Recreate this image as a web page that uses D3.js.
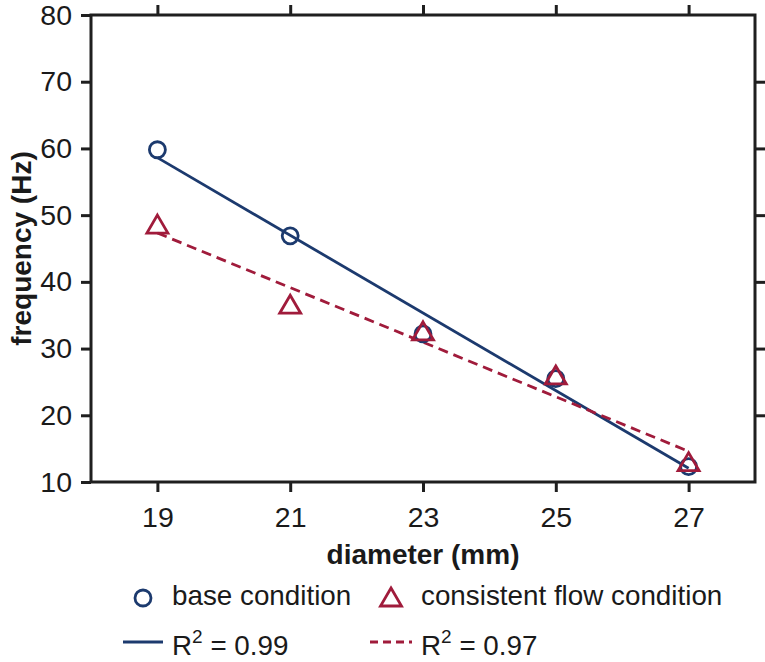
<!DOCTYPE html>
<html>
<head>
<meta charset="utf-8">
<script src="https://cdn.jsdelivr.net/npm/d3@7"></script>
<style>
  html, body { margin: 0; padding: 0; background: #fff; }
  svg { display: block; }
  text { font-family: "Liberation Sans", Arial, Helvetica, sans-serif; fill: #1a1a1a; }
</style>
</head>
<body>
<svg id="chart" width="765" height="662"></svg>
<script>
// ---- data ----
const diameters = [19, 21, 23, 25, 27];
const baseFreq = [59.8, 46.9, 32.2, 25.5, 12.3];
const flowFreq = [48.2, 36.2, 32.2, 25.6, 12.6];
const seriesNames = ["base condition", "consistent flow condition"];
const r2Values = ["0.99", "0.97"];
const xTickValues = [19, 21, 23, 25, 27];
const yTickValues = [10, 20, 30, 40, 50, 60, 70, 80];
const xTitle = "diameter (mm)";
const yTitle = "frequency (Hz)";

const NAVY = "#1c3a6e";
const RED = "#a01b3b";
const AX = "#1f1f1f";

const svg = d3.select("#chart");
svg.append("rect").attr("width", 765).attr("height", 662).attr("fill", "#fff");

const L = 91, R = 755, T = 15, B = 482;
const x = d3.scaleLinear().domain([18, 28]).range([L, R]);
const y = d3.scaleLinear().domain([10, 80]).range([B, T]);

// least squares fit
function fit(xs, ys) {
  const mx = d3.mean(xs), my = d3.mean(ys);
  let num = 0, den = 0;
  xs.forEach((xi, i) => { num += (xi - mx) * (ys[i] - my); den += (xi - mx) ** 2; });
  const b = num / den;
  return { a: my - b * mx, b };
}

// axes
function styleAxis(g) {
  g.select(".domain").remove();
  g.selectAll(".tick line").attr("stroke", AX).attr("stroke-width", 3);
  g.selectAll(".tick text").attr("fill", "#1a1a1a")
    .style("font-family", '"Liberation Sans", Arial, sans-serif')
    .style("font-size", "28.5px");
}
svg.append("g").attr("transform", `translate(0,${B})`)
  .call(d3.axisBottom(x).tickValues(xTickValues).tickSize(10).tickPadding(15).tickSizeOuter(0))
  .call(styleAxis);
svg.append("g").attr("transform", `translate(0,${T})`)
  .call(d3.axisTop(x).tickValues(xTickValues).tickSize(10).tickFormat("").tickSizeOuter(0))
  .call(styleAxis);
svg.append("g").attr("transform", `translate(${L},0)`)
  .call(d3.axisLeft(y).tickValues(yTickValues).tickSize(10).tickPadding(9).tickSizeOuter(0))
  .call(styleAxis);
svg.append("g").attr("transform", `translate(${R},0)`)
  .call(d3.axisRight(y).tickValues(yTickValues.slice(1, -1)).tickSize(10).tickFormat("").tickSizeOuter(0))
  .call(styleAxis);

// frame
svg.append("rect").attr("x", L).attr("y", T).attr("width", R - L).attr("height", B - T)
  .attr("fill", "none").attr("stroke", AX).attr("stroke-width", 3);

// titles
svg.append("text").attr("x", (L + R) / 2).attr("y", 564).attr("text-anchor", "middle")
  .style("font-size", "28px").style("font-weight", "bold").text(xTitle);
svg.append("text").attr("transform", `translate(31,${(T + B) / 2}) rotate(-90)`)
  .attr("text-anchor", "middle").style("font-size", "28px").style("font-weight", "bold").text(yTitle);

// fit lines
const x0 = d3.min(diameters), x1 = d3.max(diameters);
const fb = fit(diameters, baseFreq), ff = fit(diameters, flowFreq);
const line = d3.line().x(d => x(d[0])).y(d => y(d[1]));
svg.append("path").attr("d", line([[x0, fb.a + fb.b * x0], [x1, fb.a + fb.b * x1]]))
  .attr("stroke", NAVY).attr("stroke-width", 2.8).attr("fill", "none");
svg.append("path").attr("d", line([[x0, ff.a + ff.b * x0], [x1, ff.a + ff.b * x1]]))
  .attr("stroke", RED).attr("stroke-width", 2.8).attr("fill", "none").attr("stroke-dasharray", "10,6");

// triangle path helper
function tri(w, h) {
  return `M0,${-h * 2 / 3}L${w / 2},${h / 3}L${-w / 2},${h / 3}Z`;
}

// markers
svg.append("g").selectAll("circle").data(diameters.map((d, i) => [d, baseFreq[i]])).join("circle")
  .attr("cx", d => x(d[0])).attr("cy", d => y(d[1])).attr("r", 8)
  .attr("fill", "none").attr("stroke", NAVY).attr("stroke-width", 2.8);
svg.append("g").selectAll("path").data(diameters.map((d, i) => [d, flowFreq[i]])).join("path")
  .attr("transform", d => `translate(${x(d[0])},${y(d[1])})`)
  .attr("d", tri(21, 18)).attr("fill", "none").attr("stroke", RED).attr("stroke-width", 2.8)
  .attr("stroke-linejoin", "miter");

// legend row 1
const lg = svg.append("g");
lg.append("circle").attr("cx", 143).attr("cy", 598).attr("r", 8)
  .attr("fill", "none").attr("stroke", NAVY).attr("stroke-width", 2.8);
lg.append("text").attr("x", 172).attr("y", 605).style("font-size", "27.8px").text(seriesNames[0]);
lg.append("path").attr("transform", "translate(391,600)").attr("d", tri(21, 18))
  .attr("fill", "none").attr("stroke", RED).attr("stroke-width", 2.8);
lg.append("text").attr("x", 421).attr("y", 605).style("font-size", "27.8px").text(seriesNames[1]);

// legend row 2
function r2Text(xp, val) {
  const t = lg.append("text").attr("x", xp).attr("y", 655).style("font-size", "27.8px");
  t.append("tspan").text("R");
  t.append("tspan").attr("dy", -12).style("font-size", "19px").text("2");
  t.append("tspan").attr("dy", 12).text(" = " + val);
}
lg.append("line").attr("x1", 123).attr("x2", 163).attr("y1", 642).attr("y2", 642)
  .attr("stroke", NAVY).attr("stroke-width", 2.8);
r2Text(172, r2Values[0]);
lg.append("line").attr("x1", 370).attr("x2", 412).attr("y1", 642).attr("y2", 642)
  .attr("stroke", RED).attr("stroke-width", 2.8).attr("stroke-dasharray", "8,5");
r2Text(421, r2Values[1]);
</script>
</body>
</html>
